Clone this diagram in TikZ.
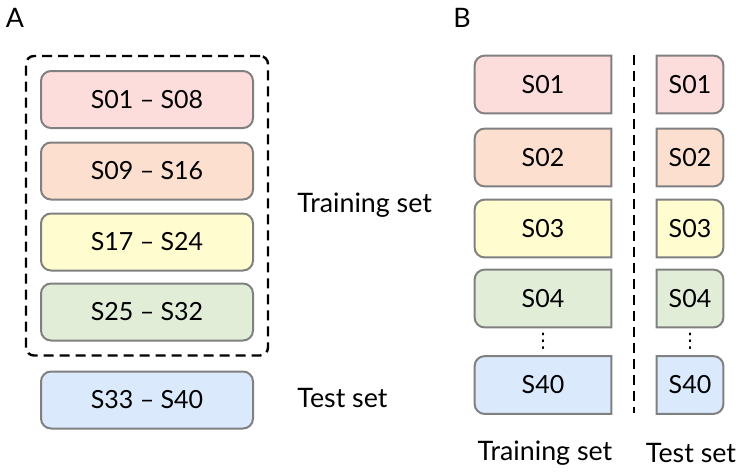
\documentclass[tikz,border=0pt]{standalone}
\usepackage{fontspec}
\setmainfont{Lato}
\newfontfamily\symfont{DejaVu Sans}
\usetikzlibrary{fit,backgrounds}
\definecolor{boxline}{RGB}{128,128,128}
\definecolor{boxred}{RGB}{252,221,219}
\definecolor{boxorange}{RGB}{252,223,207}
\definecolor{boxyellow}{RGB}{255,253,208}
\definecolor{boxgreen}{RGB}{226,237,216}
\definecolor{boxblue}{RGB}{218,233,252}
\begin{document}
\begin{tikzpicture}[x=0.5pt,y=-0.5pt,
	box/.style={draw=boxline,line width=1pt,rounded corners=5pt,minimum width=106pt,minimum height=28.5pt,inner sep=0pt,font=\fontsize{12.5}{15}\selectfont},
	cell/.style={minimum height=28.5pt,inner sep=0pt,font=\fontsize{12.5}{15}\selectfont},
	edge/.style={draw=boxline,line width=1pt},
	lbl/.style={inner sep=0pt,font=\fontsize{13.4}{16}\selectfont},
	vdot/.style={inner sep=0pt,font=\symfont\fontsize{10}{12}\selectfont},
	group/.style={draw,dash pattern=on 5pt off 3pt,line width=1.2pt,rounded corners=4pt,inner sep=7pt}]
	\useasboundingbox (0,0) rectangle (742,471);

	\node[lbl] at (15,18) (A) {A};
	\node[lbl] at (462,18) (B) {B};

	\node[box,fill=boxred] at (147,99.5) (a1) {S01 -- S08};
	\node[box,fill=boxorange] at (147,171) (a2) {S09 -- S16};
	\node[box,fill=boxyellow] at (147,242) (a3) {S17 -- S24};
	\node[box,fill=boxgreen] at (147,312) (a4) {S25 -- S32};
	\node[box,fill=boxblue] at (147,400) (a5) {S33 -- S40};
	\node[group,fit=(a1)(a4)] (train) {};

	\node[lbl,anchor=west] at (297,205) (trainA) {Training set};
	\node[lbl,anchor=west] at (297,398) (testA) {Test set};

	\foreach \i/\y/\t/\c in {1/84.5/S01/boxred,2/157.5/S02/boxorange,3/228.5/S03/boxyellow,4/298.5/S04/boxgreen,5/385/S40/boxblue} {
		\node[cell,minimum width=68pt] at (543,\y) (l\i) {\t};
		\node[cell,minimum width=33pt] at (690,\y) (r\i) {\t};
		\begin{scope}[on background layer]
			\draw[edge,fill=\c] (l\i.north east) -- (l\i.north) [rounded corners=5pt] -- (l\i.north west) -- (l\i.south west) -- (l\i.south) [sharp corners] -- (l\i.south east) -- cycle;
			\draw[edge,fill=\c] (r\i.north west) -- (r\i.north) [rounded corners=5pt] -- (r\i.north east) -- (r\i.south east) -- (r\i.south) [sharp corners] -- (r\i.south west) -- cycle;
		\end{scope}
	}
	\node[vdot] at (543,341) (ldots) {⋮};
	\node[vdot] at (690,341) (rdots) {⋮};

	\coordinate (top) at (634,55);
	\coordinate (bot) at (634,413);
	\draw[dash pattern=on 5pt off 3pt,line width=1.2pt] (top) -- (bot);

	\node[lbl] at (545,453) (trainB) {Training set};
	\node[lbl] at (691,453) (testB) {Test set};
\end{tikzpicture}
\end{document}
